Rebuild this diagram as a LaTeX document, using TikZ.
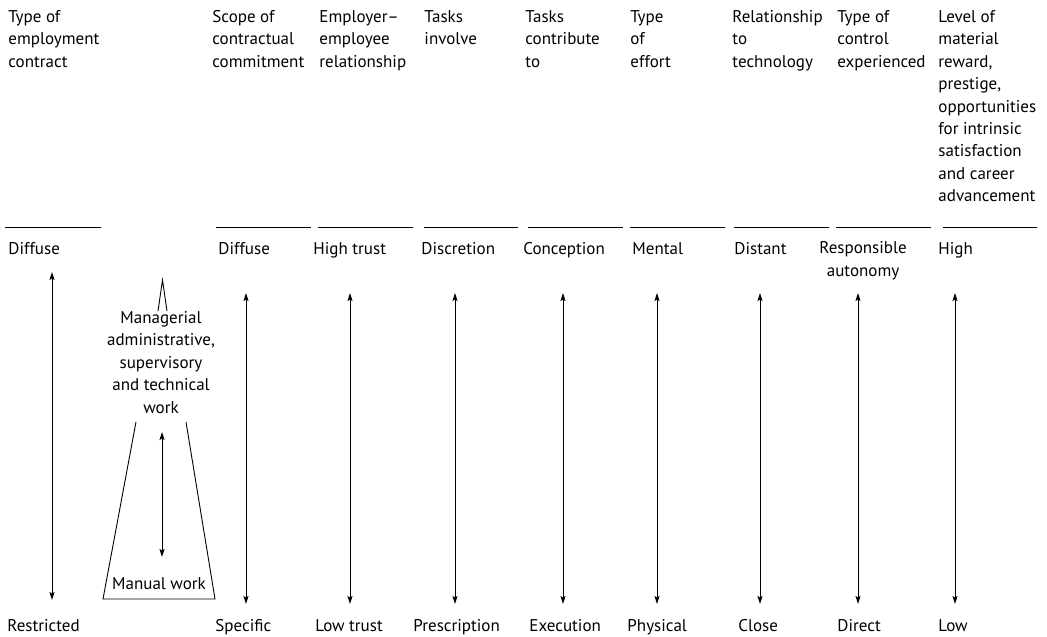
\documentclass[tikz,border=0pt]{standalone}
\usepackage{fontspec}
\setmainfont{PT Sans}
\usetikzlibrary{arrows.meta}

\begin{document}
\begin{tikzpicture}[x=1pt,y=-1pt,line width=.9pt,font=\fontsize{17}{22.4}\selectfont,
  head/.style={anchor=north west,align=left,inner sep=0pt},
  val/.style={anchor=base west,inner sep=0pt},
  tip/.style={{Stealth[length=8pt,width=5pt,inset=1.5pt]}-{Stealth[length=8pt,width=5pt,inset=1.5pt]}}]
\useasboundingbox (0,0) rectangle (1047,637);
% column headings
\node[head] (h0) at (8,10) {Type of\\employment\\contract};
\node[head] (h1) at (212,10) {Scope of\\contractual\\commitment};
\node[head] (h2) at (319,10) {Employer–\\employee\\relationship};
\node[head] (h3) at (424,10) {Tasks\\involve};
\node[head] (h4) at (525,10) {Tasks\\contribute\\to};
\node[head] (h5) at (630,10) {Type\\of\\effort};
\node[head] (h6) at (732,10) {Relationship\\to\\technology};
\node[head] (h7) at (837,10) {Type of\\control\\experienced};
\node[head] (h8) at (938,10) {Level of\\material\\reward,\\prestige,\\opportunities\\for intrinsic\\satisfaction\\and career\\advancement};
\draw (5,227)--(101,227) (216,227)--(311,227) (318,227)--(413,227) (424,227)--(518,227) (528,227)--(623,227)
      (630,227)--(725,227) (734,227)--(829,227) (836,227)--(931,227) (943,227)--(1037,227);
% upper ends
\node[val] (hi0) at (8,254) {Diffuse};
\node[val] (hi1) at (218,254) {Diffuse};
\node[val] (hi2) at (313,254) {High trust};
\node[val] (hi3) at (421,254) {Discretion};
\node[val] (hi4) at (523,254) {Conception};
\node[val] (hi5) at (632,254) {Mental};
\node[val] (hi6) at (734,254) {Distant};
\node[anchor=north west,align=center,inner sep=0pt] (hi7) at (819,241.5) {Responsible\\autonomy};
\node[val] (hi8) at (938,254) {High};
% lower ends
\node[val] (lo0) at (7,631) {Restricted};
\node[val] (lo1) at (215,631) {Specific};
\node[val] (lo2) at (315,631) {Low trust};
\node[val] (lo3) at (413,631) {Prescription};
\node[val] (lo4) at (529,631) {Execution};
\node[val] (lo5) at (627,631) {Physical};
\node[val] (lo6) at (738,631) {Close};
\node[val] (lo7) at (837,631) {Direct};
\node[val] (lo8) at (938,631) {Low};
% scales
\coordinate (t0) at (52,272); \coordinate (b0) at (52,600);
\draw[tip] (t0)--(b0);
\foreach \n/\x in {1/246,2/350,3/455,4/563,5/657,6/760,7/858,8/955}{
  \coordinate (t\n) at (\x,293); \coordinate (b\n) at (\x,604);
  \draw[tip] (t\n)--(b\n);
}
% occupational pyramid
\draw (158,311)--(162.5,280)--(167,311);
\draw (136,422)--(103,599)--(215,599)--(186,422);
\node[anchor=north,align=center,inner sep=0pt] (mgr) at (161,311) {Managerial\\administrative,\\supervisory\\and technical\\work};
\node[anchor=base,inner sep=0pt] (man) at (159,589) {Manual work};
\coordinate (mt) at (162,432); \coordinate (mb) at (162,557);
\draw[tip] (mt)--(mb);
\end{tikzpicture}
\end{document}
